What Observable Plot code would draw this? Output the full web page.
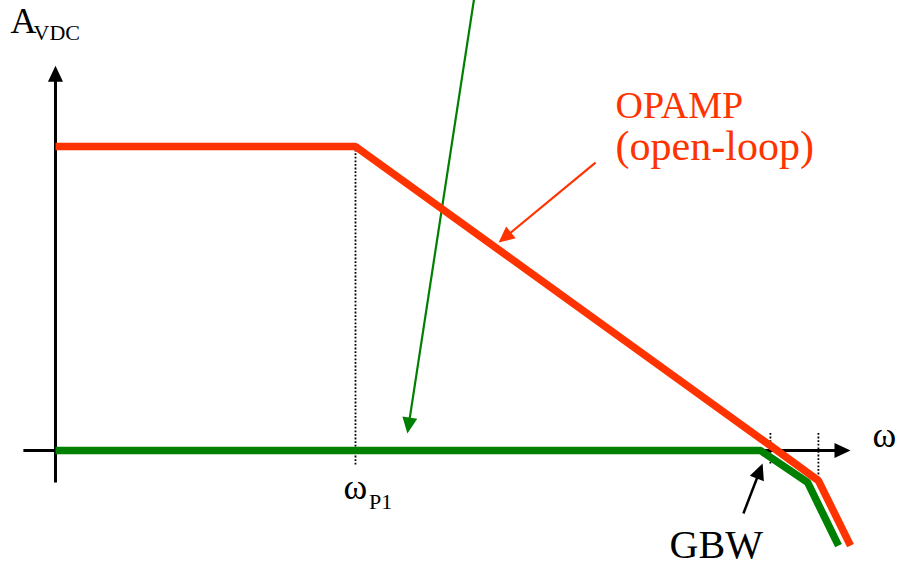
<!DOCTYPE html>
<html>
<head>
<meta charset="utf-8">
<script src="https://cdn.jsdelivr.net/npm/d3@7"></script>
<script src="https://cdn.jsdelivr.net/npm/@observablehq/plot@0.6"></script>
<style>
  html, body { margin: 0; padding: 0; background: white; }
  #chart svg { display: block; }
</style>
</head>
<body>
<div id="chart"></div>
<script>
// ---- Data (normalized units: x = log-frequency, ωP1 = 1; y = gain, A_VDC = 1) ----
const openLoopX = [0, 1, 2.383, 2.543, 2.65];
const openLoopY = [1, 1, 0.016, -0.099, -0.313];
const closedLoopX = [0, 2.35, 2.507, 2.61];
const closedLoopY = [0, 0, -0.105, -0.313];

// dotted guide lines at ωP1, GBW and second pole
const guideX = [1, 2.383, 2.543];
const guideTop = [1, 0.056, 0.056];
const guideBottom = [-0.053, -0.049, -0.105];

// coordinate axes (start -> tip)
const axisNames = ["gain", "frequency"];
const axisX1 = [0, -0.107];
const axisY1 = [-0.105, 0];
const axisX2 = [0, 2.65];
const axisY2 = [1.266, 0];

// annotation arrows (start -> tip)
const pointerNames = ["closed-loop", "open-loop", "GBW"];
const pointerX1 = [1.397, 1.8, 2.293];
const pointerY1 = [1.497, 0.947, -0.207];
const pointerX2 = [1.173, 1.477, 2.357];
const pointerY2 = [0.056, 0.684, -0.043];
const pointerColors = ["#008000", "#ff3300", "#000000"];
const pointerWidths = [2.2, 2.2, 2.5];

// labels
const labelTexts = ["A", "VDC", "OPAMP", "(open-loop)", "ω", "ω", "P1", "GBW"];
const labelX = [-0.15, -0.073, 1.867, 1.867, 2.723, 0.96, 1.045, 2.047];
const labelY = [1.375, 1.352, 1.095, 0.957, 0.01, -0.158, -0.194, -0.355];
const labelSizes = [36, 22, 38, 42, 36, 36, 22, 40];
const labelColors = ["#000", "#000", "#ff3300", "#ff3300", "#000", "#000", "#000", "#000"];

const RED = "#ff3300";
const GREEN = "#008000";

// ---- tables built from the arrays ----
const openLoop = openLoopX.map((x, i) => ({x, y: openLoopY[i]}));
const closedLoop = closedLoopX.map((x, i) => ({x, y: closedLoopY[i]}));
const guides = guideX.map((x, i) => ({x, y1: guideTop[i], y2: guideBottom[i]}));
const axes = axisNames.map((n, i) => ({n, x1: axisX1[i], y1: axisY1[i], x2: axisX2[i], y2: axisY2[i], color: "#000", w: 3}));
const pointers = pointerNames.map((n, i) => ({n, x1: pointerX1[i], y1: pointerY1[i], x2: pointerX2[i], y2: pointerY2[i], color: pointerColors[i], w: pointerWidths[i]}));
const arrows = axes.concat(pointers);
const labels = labelTexts.map((t, i) => ({t, x: labelX[i], y: labelY[i], size: labelSizes[i], color: labelColors[i]}));

const W = 899, H = 570;
const xDomain = [-0.1833, 2.8133];
const yDomain = [-0.3947, 1.4803];
const xs = d3.scaleLinear(xDomain, [0, W]);
const ys = d3.scaleLinear(yDomain, [H, 0]);
// direction of each arrow in screen space (degrees clockwise from up)
arrows.forEach(a => {
  const dx = xs(a.x2) - xs(a.x1), dy = ys(a.y2) - ys(a.y1);
  a.angle = Math.atan2(dx, -dy) * 180 / Math.PI;
});

// filled triangular arrowhead whose tip is at the origin, pointing up
const arrowHead = {
  draw(context, size) {
    const r = Math.sqrt(size / Math.PI);
    const hw = r * 0.47;
    context.moveTo(0, 0);
    context.lineTo(hw, r);
    context.lineTo(-hw, r);
    context.closePath();
  }
};

const lineStyle = {strokeWidth: 7.5, strokeLinejoin: "miter", strokeLinecap: "butt"};
const serif = "Liberation Serif";

const chart = Plot.plot({
  width: W,
  height: H,
  margin: 0,
  x: {domain: xDomain, axis: null},
  y: {domain: yDomain, axis: null},
  style: {background: "white"},
  marks: [
    // coordinate axes and pointers (shafts)
    Plot.arrow(arrows, {x1: "x1", y1: "y1", x2: "x2", y2: "y2", stroke: "color", strokeWidth: "w",
      headLength: 0, insetEnd: 12, strokeLinecap: "butt"}),
    // arrowheads
    Plot.dot(arrows, {x: "x2", y: "y2", r: 16, symbol: arrowHead, rotate: "angle",
      fill: "color", stroke: "none"}),
    // dotted guides
    Plot.ruleX(guides, {x: "x", y1: "y1", y2: "y2", stroke: "#000", strokeWidth: 1.8, strokeDasharray: "1.8,1.8"}),
    // closed loop (green) and open loop (red)
    Plot.line(closedLoop, {x: "x", y: "y", stroke: GREEN, ...lineStyle}),
    Plot.line(openLoop, {x: "x", y: "y", stroke: RED, ...lineStyle}),
    // labels
    Plot.text(labels, {x: "x", y: "y", text: "t", fill: "color", fontSize: "size",
      textAnchor: "start", lineAnchor: "bottom", fontFamily: serif})
  ]
});
chart.setAttribute("font-family", serif);
document.getElementById("chart").appendChild(chart);
</script>
</body>
</html>
